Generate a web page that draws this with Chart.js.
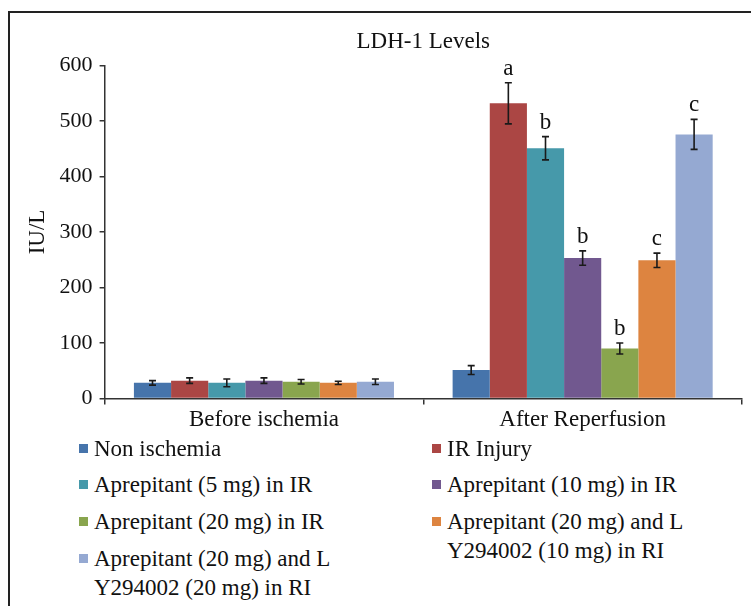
<!DOCTYPE html>
<html>
<head>
<meta charset="utf-8">
<script src="https://cdn.jsdelivr.net/npm/chart.js@4"></script>
<style>
  html, body { margin: 0; padding: 0; background: #fff; width: 751px; height: 606px; overflow: hidden; }
  #frame { position: absolute; left: 8px; top: 11px; width: 800px; height: 700px; border-left: 2px solid #222; border-top: 2px solid #222; }
  #wrap { position: absolute; left: 0; top: 0; width: 751px; height: 442px; }
  #legend { position: absolute; left: 0; top: 0; font-family: "Liberation Serif", serif; font-size: 23px; color: #111; }
  .item { position: absolute; display: flex; align-items: flex-start; }
  .box { width: 9px; height: 9px; margin-top: 10px; margin-right: 6px; flex: none; }
  .txt { line-height: 29px; width: 250px; }
</style>
</head>
<body>
<div id="frame"></div>
<div id="wrap"><canvas id="myChart"></canvas></div>
<div id="legend"></div>
<script>
const categories = ['Before ischemia', 'After Reperfusion'];

const seriesNames = [
    'Non ischemia',
    'IR Injury',
    'Aprepitant (5 mg) in IR',
    'Aprepitant (10 mg) in IR',
    'Aprepitant (20 mg) in IR',
    'Aprepitant (20 mg) and L Y294002 (10 mg) in RI',
    'Aprepitant (20 mg) and L Y294002 (20 mg) in RI'
];
const seriesColors = ['#4674ab', '#ab4644', '#4699aa', '#71588f', '#89a54e', '#dd8440', '#95a9d2'];

// mean values (IU/L) for [before, after]
const nonIschemia = [28, 51];
const irInjury = [32, 532];
const aprep5 = [28, 451];
const aprep10 = [32, 253];
const aprep20 = [30, 90];
const aprepLy10 = [28, 249];
const aprepLy20 = [30, 476];

// error bar half-lengths
const errNonIschemia = [4, 8];
const errIrInjury = [5, 37];
const errAprep5 = [7, 21];
const errAprep10 = [5, 13];
const errAprep20 = [4, 10];
const errAprepLy10 = [3, 13];
const errAprepLy20 = [5, 27];

// significance letters
const lettersNonIschemia = ['', ''];
const lettersIrInjury = ['', 'a'];
const lettersAprep5 = ['', 'b'];
const lettersAprep10 = ['', 'b'];
const lettersAprep20 = ['', 'b'];
const lettersAprepLy10 = ['', 'c'];
const lettersAprepLy20 = ['', 'c'];

const yTicks = [0, 100, 200, 300, 400, 500, 600];

const values = [nonIschemia, irInjury, aprep5, aprep10, aprep20, aprepLy10, aprepLy20];
const errors = [errNonIschemia, errIrInjury, errAprep5, errAprep10, errAprep20, errAprepLy10, errAprepLy20];
const letters = [lettersNonIschemia, lettersIrInjury, lettersAprep5, lettersAprep10, lettersAprep20, lettersAprepLy10, lettersAprepLy20];

const serif = '"Liberation Serif", serif';

const ctx = document.getElementById('myChart').getContext('2d');

// error bars + letters above them
const errorBars = {
    id: 'errorBars',
    afterDatasetsDraw(chart) {
        const c = chart.ctx;
        const y = chart.scales.y;
        c.save();
        chart.data.datasets.forEach((ds, i) => {
            const meta = chart.getDatasetMeta(i);
            meta.data.forEach((bar, j) => {
                const v = ds.data[j];
                const e = ds.errors[j];
                const top = y.getPixelForValue(v + e);
                const bot = y.getPixelForValue(v - e);
                c.strokeStyle = '#1a1a1a';
                c.lineWidth = 1.6;
                c.beginPath();
                c.moveTo(bar.x, top); c.lineTo(bar.x, bot);
                c.moveTo(bar.x - 3.5, top); c.lineTo(bar.x + 3.5, top);
                c.moveTo(bar.x - 3.5, bot); c.lineTo(bar.x + 3.5, bot);
                c.stroke();
                if (ds.letters[j]) {
                    c.fillStyle = '#111';
                    c.font = '23px ' + serif;
                    c.textAlign = 'center';
                    c.textBaseline = 'alphabetic';
                    c.fillText(ds.letters[j], bar.x, top - 8);
                }
            });
        });
        c.restore();
    }
};

let myChart = new Chart(ctx, {
    type: 'bar',
    data: {
        labels: categories,
        datasets: seriesNames.map((name, i) => ({
            label: name,
            data: values[i],
            errors: errors[i],
            letters: letters[i],
            backgroundColor: seriesColors[i],
            borderWidth: 0,
            categoryPercentage: 0.816,
            barPercentage: 1
        }))
    },
    options: {
        responsive: true,
        maintainAspectRatio: false,
        animation: false,
        layout: { padding: { left: 24, right: 9, top: 20, bottom: 6 } },
        plugins: {
            legend: { display: false },
            tooltip: { enabled: false },
            title: {
                display: true,
                text: 'LDH-1 Levels',
                fullSize: false,
                color: '#111',
                font: { family: serif, size: 23, weight: 'normal' },
                padding: { top: 8, bottom: 10 }
            }
        },
        scales: {
            x: {
                offset: true,
                grid: { offset: true, drawOnChartArea: false, drawTicks: true, tickLength: 6, color: '#333', lineWidth: 1.5 },
                border: { color: '#333', width: 1.5 },
                ticks: { color: '#111', font: { family: serif, size: 23 }, padding: 2, maxRotation: 0 }
            },
            y: {
                min: 0,
                max: 600,
                afterBuildTicks: (axis) => { axis.ticks = yTicks.map(v => ({ value: v })); },
                grid: { drawOnChartArea: false, tickLength: 5, color: '#333', lineWidth: 1.5 },
                border: { color: '#333', width: 1.5 },
                ticks: { color: '#111', font: { family: serif, size: 22 }, padding: 7 },
                title: { display: true, text: 'IU/L', color: '#111', font: { family: serif, size: 23 }, padding: { top: 0, bottom: 1 } }
            }
        }
    },
    plugins: [errorBars]
});

// legend: two columns, fixed row pitch like the original
const legend = document.getElementById('legend');
seriesNames.forEach((name, i) => {
    const col = i % 2;
    const row = Math.floor(i / 2);
    const item = document.createElement('div');
    item.className = 'item';
    item.style.left = (col === 0 ? 79 : 432) + 'px';
    item.style.top = (433.5 + row * 36.7) + 'px';
    const box = document.createElement('div');
    box.className = 'box';
    box.style.background = seriesColors[i];
    const txt = document.createElement('div');
    txt.className = 'txt';
    txt.textContent = name;
    item.appendChild(box);
    item.appendChild(txt);
    legend.appendChild(item);
});
</script>
</body>
</html>
